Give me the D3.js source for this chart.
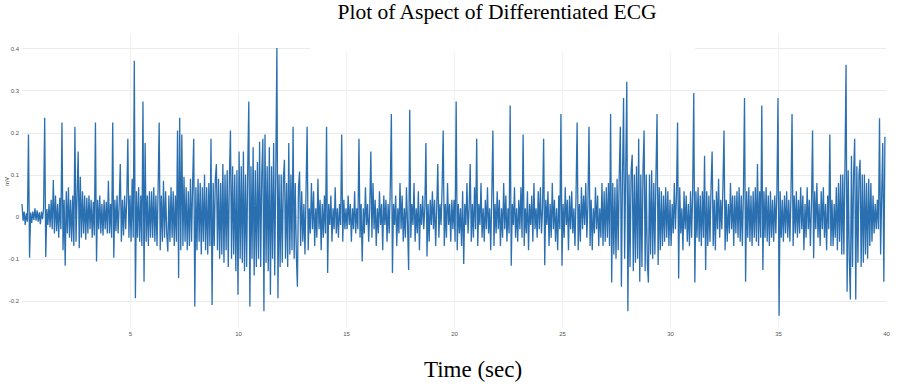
<!DOCTYPE html>
<html>
<head>
<meta charset="utf-8">
<script src="https://cdn.jsdelivr.net/npm/d3@7"></script>
<style>
  body { margin: 0; background: #fff; }
</style>
</head>
<body>
<svg id="chart"></svg>
<script>
// sampling step of the traces below, seconds
const dt = 0.05

// differentiated ECG, mV, 20 samples per second
const mv0to10 = [
  0.03, -0.01, 0.012, -0.02, 0.008, -0.012, 0.195, -0.098, 0.01, -0.015, 0.012, -0.008, 0.02, -0.01, 0.015, -0.012, 0.01, -0.018, 0.012, -0.006,
  0.02, 0.235, -0.096, 0.018, -0.02, 0.03, -0.025, 0.04, -0.03, 0.087, -0.04, 0.05, -0.035, 0.03, -0.05, 0.045, -0.03, 0.224, -0.08, 0.04,
  -0.117, 0.06, -0.04, 0.07, -0.05, 0.04, -0.06, 0.05, -0.07, 0.214, -0.06, 0.05, 0.155, -0.075, 0.095, -0.05, 0.06, -0.04, 0.05, -0.055,
  0.045, -0.04, 0.05, -0.03, 0.04, -0.05, 0.035, -0.045, 0.224, -0.107, 0.04, -0.03, 0.05, -0.04, 0.03, -0.045, 0.04, -0.03, 0.035, -0.04,
  0.085, -0.04, 0.03, -0.05, 0.224, -0.098, 0.04, -0.035, 0.05, -0.04, 0.03, 0.125, -0.06, 0.04, -0.045, 0.05, -0.03, 0.04, 0.185, -0.05,
  0.05, -0.06, 0.09, -0.05, 0.371, -0.194, 0.06, -0.05, 0.07, -0.06, 0.05, -0.07, 0.274, -0.155, 0.175, -0.06, 0.05, -0.07, 0.06, -0.05,
  0.06, -0.05, 0.07, -0.06, 0.05, -0.07, 0.06, 0.224, -0.08, 0.05, -0.06, 0.085, -0.05, 0.06, -0.04, -0.083, 0.05, -0.06, 0.07, -0.05,
  0.06, -0.07, 0.05, -0.06, 0.205, -0.146, 0.235, -0.08, 0.195, -0.07, 0.095, -0.06, 0.07, -0.08, 0.06, -0.07, 0.09, -0.06, 0.08, 0.185,
  -0.214, 0.07, -0.08, 0.09, -0.06, 0.08, -0.09, 0.07, -0.06, 0.1, -0.08, 0.07, -0.09, 0.08, -0.07, 0.185, -0.21, 0.08, -0.07, 0.09,
  0.125, -0.08, 0.09, -0.1, 0.08, -0.09, 0.125, -0.11, 0.1, -0.08, 0.11, -0.12, 0.09, 0.205, -0.1, 0.12, -0.09, 0.1, -0.13, 0.11
]
const mv10to20 = [
  -0.186, 0.155, -0.1, 0.12, -0.11, 0.155, -0.13, 0.1, -0.12, 0.11, 0.274, -0.214, 0.12, -0.1, 0.165, -0.14, 0.11, -0.12, 0.13, -0.1,
  0.178, -0.12, 0.1, 0.185, -0.225, 0.195, -0.11, 0.12, -0.13, 0.165, -0.186, 0.12, -0.1, 0.175, -0.14, 0.11, 0.401, -0.194, 0.1, -0.12,
  0.1, -0.11, 0.09, 0.135, -0.1, 0.08, -0.12, 0.175, -0.09, 0.1, -0.08, 0.214, -0.1, 0.08, -0.09, -0.167, 0.07, 0.107, -0.07, 0.06,
  -0.06, 0.03, -0.09, 0.06, 0.214, -0.08, 0.02, -0.04, 0.08, -0.03, 0.06, -0.07, 0.02, -0.05, 0.09, -0.03, 0.04, -0.08, 0.03, -0.05,
  0.05, -0.04, 0.214, -0.134, 0.03, -0.02, 0.05, -0.06, 0.02, -0.03, 0.07, -0.04, 0.02, -0.05, 0.03, -0.02, 0.195, -0.06, 0.04, -0.03,
  0.02, -0.03, 0.05, -0.02, 0.03, -0.06, 0.02, -0.03, 0.06, -0.04, 0.02, -0.03, 0.185, -0.05, 0.03, -0.107, 0.02, -0.04, 0.07, -0.02,
  0.03, -0.06, 0.02, 0.155, -0.05, 0.08, -0.03, 0.04, -0.07, 0.02, -0.04, 0.06, -0.02, 0.03, -0.08, 0.05, -0.02, 0.04, -0.06, 0.03,
  -0.04, 0.07, 0.244, -0.134, 0.03, -0.02, 0.05, -0.07, 0.02, -0.04, 0.08, -0.03, 0.05, -0.06, 0.02, -0.05, 0.07, -0.02, -0.127, 0.254,
  -0.05, 0.03, -0.02, 0.08, -0.06, 0.02, -0.04, 0.06, -0.08, 0.03, -0.02, 0.05, -0.03, 0.02, 0.175, -0.095, 0.03, -0.06, 0.04, -0.02,
  0.06, -0.03, 0.04, -0.07, 0.02, 0.125, -0.05, 0.03, -0.02, 0.07, 0.205, -0.07, 0.03, -0.05, 0.08, -0.02, 0.03, -0.06, 0.04, -0.03
]
const mv20to30 = [
  0.04, -0.06, 0.274, -0.08, 0.03, -0.04, 0.02, -0.07, 0.06, -0.113, 0.03, -0.02, 0.08, -0.04, 0.02, 0.125, -0.06, 0.03, -0.05, 0.07,
  -0.03, 0.185, -0.07, 0.03, -0.02, 0.08, -0.05, 0.02, -0.06, 0.04, -0.03, 0.07, -0.04, 0.02, -0.08, 0.05, 0.205, -0.07, 0.03, -0.04,
  0.06, -0.03, 0.04, -0.07, 0.02, -0.05, 0.08, -0.03, 0.05, -0.06, 0.02, -0.04, 0.264, -0.117, 0.03, -0.02, 0.07, -0.05, 0.02, -0.06,
  0.04, -0.03, 0.07, -0.05, 0.195, -0.07, 0.02, -0.04, 0.06, -0.08, 0.03, -0.02, 0.05, -0.06, 0.08, -0.03, 0.02, -0.05, 0.06, -0.03,
  0.07, -0.04, 0.02, 0.185, -0.116, 0.04, -0.02, 0.06, -0.07, 0.03, -0.05, 0.08, -0.03, 0.04, -0.06, 0.02, -0.08, 0.05, -0.03, 0.244,
  -0.117, 0.03, -0.05, 0.07, -0.02, 0.04, -0.08, 0.05, -0.03, 0.06, -0.04, 0.02, -0.07, 0.05, 0.224, -0.08, 0.03, -0.06, 0.07, -0.03,
  0.05, -0.02, 0.08, -0.05, 0.03, 0.214, -0.07, 0.04, -0.08, 0.02, -0.04, 0.07, -0.03, 0.05, -0.07, 0.02, -0.05, 0.08, -0.07, 0.06,
  -0.06, 0.07, -0.05, 0.08, -0.07, 0.244, -0.157, 0.08, -0.09, 0.07, -0.1, 0.09, -0.08, 0.1, 0.214, -0.167, 0.09, 0.282, -0.1, 0.11,
  0.321, -0.225, 0.1, -0.12, 0.11, 0.147, -0.13, 0.1, -0.11, 0.12, -0.1, 0.185, -0.155, 0.1, -0.12, 0.11, 0.205, -0.13, 0.1, -0.11,
  -0.157, 0.1, -0.09, 0.11, -0.1, 0.08, -0.09, 0.1, 0.244, -0.115, 0.07, -0.08, 0.06, -0.07, 0.05, -0.06, 0.07, -0.05, 0.06, -0.07
]
const mv30to40 = [
  0.04, -0.07, 0.03, -0.04, 0.08, -0.03, 0.05, 0.224, -0.147, 0.07, -0.04, 0.02, -0.08, 0.06, -0.03, 0.05, -0.06, 0.03, -0.07, 0.06,
  -0.05, 0.06, 0.294, -0.157, 0.06, -0.05, 0.07, -0.06, 0.05, -0.07, 0.06, -0.05, 0.145, -0.127, 0.06, -0.07, 0.05, -0.06, 0.07, 0.155,
  -0.07, 0.04, -0.08, 0.06, -0.03, 0.09, -0.05, 0.04, -0.03, 0.07, 0.205, -0.08, 0.04, -0.06, 0.03, -0.04, 0.08, -0.03, 0.05, -0.07,
  0.05, -0.04, 0.06, -0.05, 0.07, -0.06, 0.05, -0.07, 0.06, 0.282, -0.155, 0.06, -0.05, 0.07, -0.06, 0.05, -0.07, 0.06, -0.05, 0.07,
  -0.06, 0.125, -0.07, 0.06, -0.05, 0.264, -0.127, 0.06, -0.05, 0.07, -0.06, 0.05, -0.07, 0.06, -0.05, 0.04, -0.06, 0.05, -0.04, 0.06,
  0.282, -0.236, 0.06, -0.05, 0.04, -0.06, 0.05, -0.04, 0.06, -0.05, 0.04, -0.06, 0.05, 0.244, -0.07, 0.05, -0.04, 0.06, -0.05, 0.04,
  -0.04, 0.07, -0.03, 0.05, -0.08, 0.03, -0.05, 0.07, -0.03, 0.04, -0.07, 0.03, 0.205, -0.099, 0.06, -0.03, 0.08, -0.05, 0.03, -0.07,
  0.06, -0.03, 0.07, -0.05, 0.03, -0.08, 0.05, -0.03, 0.195, -0.07, 0.04, -0.07, 0.03, -0.05, 0.07, -0.08, 0.08, -0.06, 0.1, -0.09,
  0.1, -0.09, 0.12, 0.361, -0.179, 0.11, -0.1, -0.197, 0.145, -0.12, 0.1, 0.185, -0.197, 0.12, -0.11, 0.1, 0.135, -0.12, 0.1, -0.11,
  0.1, -0.09, 0.08, -0.1, 0.09, -0.07, 0.08, -0.06, 0.05, -0.04, 0.03, -0.03, 0.04, -0.03, 0.234, -0.09, 0.05, 0.175, -0.155, 0.19
]

const yTicks = [-0.2, -0.1, 0, 0.1, 0.2, 0.3, 0.4]
const xTicks = [5, 10, 15, 20, 25, 30, 35, 40]
const titleText = 'Plot of Aspect of Differentiated ECG'
const xLabelText = 'Time (sec)'
const yLabelText = 'mV'

const width = 900
const height = 384
const plot = { left: 22, right: 886, top: 35, bottom: 328 }

const points = mv0to10.concat(mv10to20, mv20to30, mv30to40)
  .map((v, i) => [i * dt, v])

const x = d3.scaleLinear().domain([0, 40]).range([plot.left, plot.right])
const y = d3.scaleLinear().domain([-0.265, 0.432]).range([plot.bottom, plot.top])

const svg = d3.select('#chart')
  .attr('width', width)
  .attr('height', height)
  .style('font-family', 'Roboto, "Open Sans", sans-serif')

// grid lines
const grid = svg.append('g').attr('class', 'grid')
grid.selectAll('line.h').data(yTicks).enter().append('line')
  .attr('class', 'h')
  .attr('x1', plot.left)
  .attr('x2', plot.right)
  .attr('y1', d => Math.round(y(d)) + 0.5)
  .attr('y2', d => Math.round(y(d)) + 0.5)
  .style('stroke', '#ebebeb')
  .style('stroke-width', 1)
grid.selectAll('line.v').data(xTicks.filter(d => d < 40)).enter().append('line')
  .attr('class', 'v')
  .attr('x1', d => Math.round(x(d)) + 0.5)
  .attr('x2', d => Math.round(x(d)) + 0.5)
  .attr('y1', plot.top)
  .attr('y2', plot.bottom)
  .style('stroke', '#f0f0f0')
  .style('stroke-width', 1)

// the pasted title box hides part of the top grid line
svg.append('rect')
  .attr('x', 310)
  .attr('y', 0)
  .attr('width', 385)
  .attr('height', 52)
  .style('fill', '#fff')

// y axis labels
const yAxis = d3.axisLeft(y)
  .tickValues(yTicks)
  .tickSize(0)
  .tickPadding(2)
  .tickFormat(d => d === 0 ? '0' : d3.format('.1f')(d).replace('−', '-'))
svg.append('g')
  .attr('transform', `translate(${plot.left - 1},0)`)
  .call(yAxis)
  .call(g => g.select('.domain').remove())
  .call(g => g.selectAll('text').style('font-size', '6px').style('fill', '#555').style('font-family', 'inherit'))

// x axis labels
const xAxis = d3.axisBottom(x)
  .tickValues(xTicks)
  .tickSize(0)
  .tickPadding(4)
svg.append('g')
  .attr('transform', `translate(0,${plot.bottom})`)
  .call(xAxis)
  .call(g => g.select('.domain').remove())
  .call(g => g.selectAll('text').style('font-size', '6px').style('fill', '#555').style('font-family', 'inherit'))

// y axis title
svg.append('text')
  .attr('transform', `translate(9,${(plot.top + plot.bottom) / 2}) rotate(-90)`)
  .attr('text-anchor', 'middle')
  .style('font-size', '6px')
  .style('fill', '#555')
  .text(yLabelText)

// ecg trace
const line = d3.line()
  .x(d => x(d[0]))
  .y(d => y(d[1]))
svg.append('path')
  .datum(points)
  .attr('d', line)
  .style('fill', 'none')
  .style('stroke', '#2a6fb0')
  .style('stroke-width', 1.3)
  .style('stroke-linejoin', 'miter')

// draw title
svg.append('text')
  .attr('x', 497)
  .attr('y', 19)
  .attr('text-anchor', 'middle')
  .style('font-family', '"Liberation Serif", "Times New Roman", serif')
  .style('font-size', '21.5px')
  .style('fill', '#000')
  .text(titleText)

// draw x axis title
svg.append('text')
  .attr('x', 473)
  .attr('y', 377)
  .attr('text-anchor', 'middle')
  .style('font-family', '"Liberation Serif", "Times New Roman", serif')
  .style('font-size', '23px')
  .style('fill', '#000')
  .text(xLabelText)
</script>
</body>
</html>
